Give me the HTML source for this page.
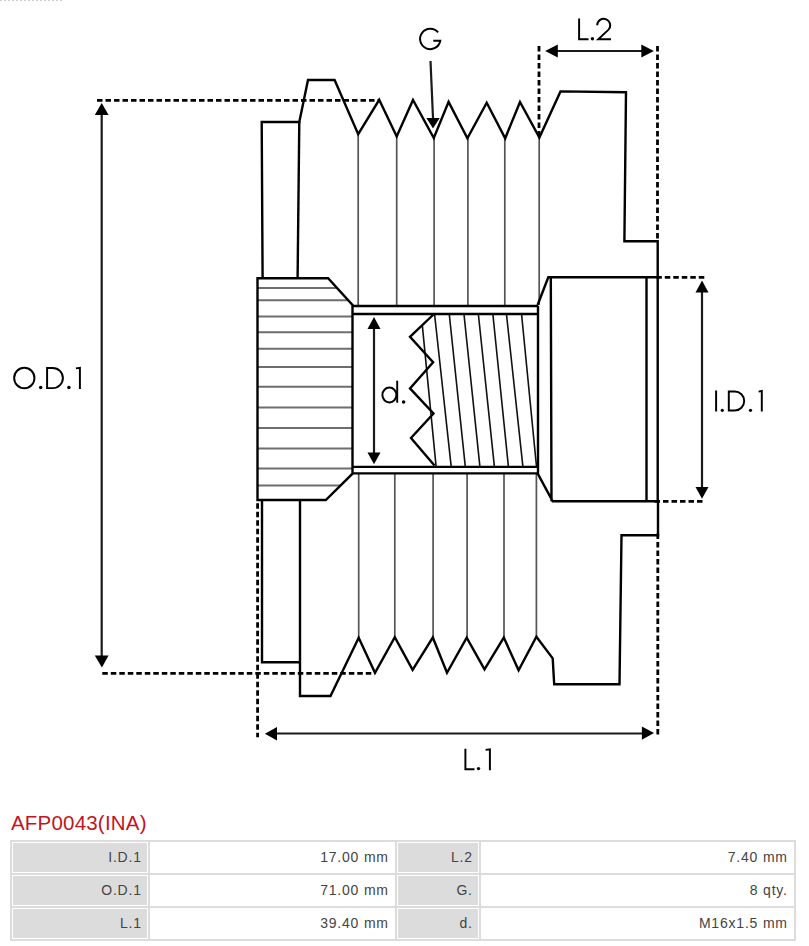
<!DOCTYPE html>
<html>
<head>
<meta charset="utf-8">
<style>
html,body{margin:0;padding:0;background:#fff;}
body{width:809px;height:946px;position:relative;overflow:hidden;font-family:"Liberation Sans",sans-serif;}
svg{position:absolute;left:0;top:0;}
.title{position:absolute;left:11px;top:811px;font-size:20.5px;letter-spacing:0.2px;color:#c4141f;white-space:nowrap;line-height:24px;}
table{position:absolute;left:10px;top:840px;border-collapse:separate;border-spacing:2px;background:#dcdcdc;width:786px;}
td{border:1px solid #fff;height:31px;padding:0 5.2px 2px 0;text-align:right;font-size:14px;letter-spacing:0.8px;color:#444;box-sizing:border-box;}
td.k{background:#dcdcdc;}
td.v{background:#fff;}
</style>
</head>
<body>
<svg width="809" height="800" viewBox="0 0 809 800">
<path d="M0 0.5 H64" stroke="#d0d0d0" stroke-width="1" stroke-dasharray="2 2"/>
<g fill="none" stroke="#000" stroke-linejoin="miter" stroke-linecap="butt">
 <!-- thin grey valley lines -->
 <g stroke="#555" stroke-width="1.7">
  <path d="M358.2 134 V305.4 M396.7 136 V305.4 M434.1 138 V305.4 M467.9 138 V305.4 M504.8 138 V305.4 M539.2 137 V305"/>
  <path d="M358.7 473 V638 M394.8 473 V637 M433.1 473 V637.5 M467.1 473 V637.5 M504 473 V637.5 M536.4 473 V637"/>
 </g>
 <!-- hub hatch lines -->
 <g stroke="#6e6e6e" stroke-width="2">
  <path d="M257.5 288 H337 M257.5 300.3 H348.2 M257.5 316.6 H352.5 M257.5 332.2 H352.5 M257.5 348.8 H352.5 M257.5 366.9 H352.5 M257.5 386.8 H352.5 M257.5 407.5 H352.5 M257.5 428 H352.5 M257.5 448.5 H352.5 M257.5 468.4 H352.5 M257.5 485.6 H340.4"/>
 </g>
 <!-- thread slanted lines -->
 <g stroke="#111" stroke-width="1.6">
  <path d="M422.3 325.1 L436.1 466.7 M434.5 313.5 L451.2 466.7 M449.2 313.5 L465.3 466.7 M463.9 313.5 L479.9 466.7 M478.3 313.5 L494.4 466.7 M492.8 313.5 L508.4 466.7 M506.4 313.5 L522.9 466.7 M521.5 313.5 L536.5 466.7"/>
 </g>
 <g stroke-width="2.4">
  <!-- top outline -->
  <path d="M262.6 278.3 L261.7 122 H299.3 L308 80 H334.6 L358.2 134.2 L379.2 99.8 L396.7 136.4 L413 100 L433.8 138 L448.6 101.9 L467.4 138.3 L486.7 102.7 L505.2 138.3 L520 102 L539.4 137.6 L560.5 91.4 L626 92.2 L624.4 241.2 H657.7 V501"/>
  <path d="M299.3 122 L297.6 278.3"/>
  <!-- bottom outline -->
  <path d="M262 500 V662.3 H300 M300 500 V696 H330.5 L358.7 637.8 L375 672.8 L394.8 637.2 L412.6 669.9 L432.8 637.5 L447 672.8 L466.7 637.6 L484.5 669.3 L503.8 637.6 L518.6 670.2 L536.4 636.7 L552.7 658.4 L554.2 684.2 H619.5 L621.5 535.3 H658 V501"/>
  <!-- left hub -->
  <path d="M257.5 278.3 H328.1 L352.5 305 V473.7 L325.8 500 H257.5 Z"/>
  <!-- bore -->
  <path d="M352.5 306 H538 M352.5 314 H538 M352.5 466.9 H538 M352.5 473.4 H538 M538 306 V473.4"/>
  <!-- right hub -->
  <path d="M537.6 305 L548.3 277.2 H657.7 M537.6 473.4 L552.7 501.3 H657.7 M550.8 277.2 L551.5 501.3 M646.5 277.2 V501.3"/>
  <!-- thread zigzag -->
  <path d="M434.5 313.5 L410 336.8 L433.1 362.3 L410 388.4 L433.5 413.5 L411 438 L434.5 465.5"/>
 </g>
 <!-- dimension lines -->
 <g stroke-width="2.2" stroke="#1a1a1a">
  <path d="M101.7 112 V658"/>
  <path d="M430.5 61 L433 118"/>
  <path d="M550 51 H649"/>
  <path d="M270 733.5 H649"/>
  <path d="M702 288 V491"/>
  <path d="M374 327 V455"/>
 </g>
 <g stroke-width="2.8" stroke-dasharray="5.5 3">
  <path d="M97 100.4 H378"/>
  <path d="M102.3 673.4 H373.5"/>
  <path d="M539 45.9 V138"/>
  <path d="M657.5 45.9 V241"/>
  <path d="M257.6 503.2 V737.2"/>
  <path d="M657.8 533.5 V734.6"/>
  <path d="M656.3 277.4 H705"/>
  <path d="M654.5 501.4 H704"/>
 </g>
</g>
<g fill="#000" stroke="none">
 <path d="M101.7 103 L94.8 115 H108.6 Z"/>
 <path d="M101.9 667.4 L94.8 655.6 H108.6 Z"/>
 <path d="M433 128.6 L426.4 117.9 H439.7 Z"/>
 <path d="M545.2 51 L557.8 44.5 V57.5 Z"/>
 <path d="M653.9 51 L641.3 44.5 V57.5 Z"/>
 <path d="M264.9 733.8 L277 727.1 V740.5 Z"/>
 <path d="M654 733.1 L641.9 726.4 V739.8 Z"/>
 <path d="M702 280.6 L695.5 292.5 H708.5 Z"/>
 <path d="M702 498.7 L695.5 486.9 H708.5 Z"/>
 <path d="M374 317.1 L367.5 329 H380.5 Z"/>
 <path d="M374 464.3 L367.5 452.4 H380.5 Z"/>
</g>
<g fill="none" stroke="#000" stroke-width="1.95" stroke-linejoin="miter">
 <ellipse cx="24.3" cy="378" rx="10.15" ry="10.2"/>
 <path d="M47.1 367.9 H52.8 A10.1 10.1 0 0 1 52.8 388.1 H47.1 Z"/>
 <path d="M75.9 368.4 L79.9 367.9 V389"/>
 <path d="M716.1 390.5 V411.5"/>
 <path d="M728.8 391.5 H734.7 A9.5 9.5 0 0 1 734.7 410.5 H728.8 Z"/>
 <path d="M758.6 391.6 L761.8 391 V411.5"/>
 <path d="M579.1 18.5 V39.2 H588.5"/>
 <path d="M597.2 25.3 A6.5 6.5 0 1 1 608.3 29.9 L598.3 39.2 H611"/>
 <path d="M438.1 32.4 A10.2 10.2 0 1 0 440.3 40.8 H433.3"/>
 <ellipse cx="389.4" cy="395" rx="7" ry="7.45"/>
 <path d="M397.2 380.7 V402.7"/>
 <path d="M465.4 748.8 V769.3 H474.5"/>
 <path d="M485.6 749.9 L489.9 749.4 V770.3"/>
</g>
<g fill="#000">
 <circle cx="40.7" cy="387.6" r="1.75"/>
 <circle cx="68.9" cy="387.6" r="1.75"/>
 <circle cx="722.3" cy="410.3" r="1.6"/>
 <circle cx="750.5" cy="410.3" r="1.6"/>
 <circle cx="592.4" cy="38.8" r="1.7"/>
 <circle cx="403.6" cy="402" r="1.8"/>
 <circle cx="478.5" cy="768.6" r="1.7"/>
</g>
</svg>
<div class="title">AFP0043(INA)</div>
<table>
<tr><td class="k" style="width:136px">I.D.1</td><td class="v" style="width:245px">17.00 mm</td><td class="k" style="width:82px">L.2</td><td class="v">7.40 mm</td></tr>
<tr><td class="k">O.D.1</td><td class="v">71.00 mm</td><td class="k">G.</td><td class="v">8 qty.</td></tr>
<tr><td class="k">L.1</td><td class="v">39.40 mm</td><td class="k">d.</td><td class="v">M16x1.5 mm</td></tr>
</table>
</body>
</html>
